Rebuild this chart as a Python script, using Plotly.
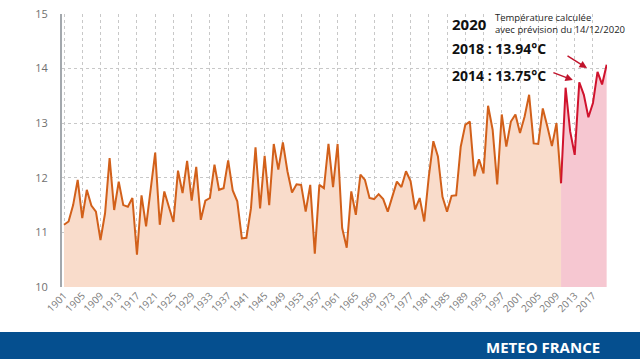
import plotly.graph_objects as go

years_obs = list(range(1901, 2011))
temp_obs = [
    11.14, 11.20, 11.50, 11.96, 11.26, 11.78, 11.49, 11.38, 10.86, 11.35,  # 1901-1910
    12.36, 11.41, 11.93, 11.50, 11.47, 11.63, 10.59, 11.68, 11.11, 11.78,  # 1911-1920
    12.46, 11.14, 11.75, 11.47, 11.19, 12.13, 11.72, 12.31, 11.58, 12.20,  # 1921-1930
    11.23, 11.58, 11.63, 12.24, 11.78, 11.81, 12.32, 11.77, 11.57, 10.89,  # 1931-1940
    10.90, 11.44, 12.56, 11.44, 12.40, 11.50, 12.62, 12.15, 12.65, 12.12,  # 1941-1950
    11.73, 11.88, 11.87, 11.38, 11.87, 10.61, 11.87, 11.81, 12.62, 11.83,  # 1951-1960
    12.62, 11.08, 10.72, 11.75, 11.32, 12.06, 11.96, 11.63, 11.61, 11.70,  # 1961-1970
    11.61, 11.38, 11.66, 11.93, 11.83, 12.12, 11.94, 11.42, 11.63, 11.20,  # 1971-1980
    12.02, 12.67, 12.39, 11.65, 11.38, 11.67, 11.68, 12.57, 12.97, 13.03,  # 1981-1990
    12.03, 12.34, 12.08, 13.32, 12.88, 11.88, 13.16, 12.57, 13.03, 13.16,  # 1991-2000
    12.82, 13.12, 13.52, 12.63, 12.62, 13.27, 12.94, 12.58, 13.00, 11.90,  # 2001-2010
]
years_recent = list(range(2010, 2021))
temp_recent = [11.90, 13.65, 12.85, 12.42, 13.75, 13.52, 13.11, 13.37, 13.94, 13.71, 14.07]

tick_years = list(range(1901, 2018, 4))
y_ticks = [10, 11, 12, 13, 14, 15]

FONT = "Open Sans"

fig = go.Figure()
fig.add_trace(go.Scatter(
    x=years_obs, y=temp_obs, mode="lines",
    line=dict(color="#d2601a", width=2),
    fill="tozeroy", fillcolor="#f9dccb",
    hoverinfo="skip", showlegend=False,
))
fig.add_trace(go.Scatter(
    x=years_recent, y=temp_recent, mode="lines",
    line=dict(color="#d0132d", width=2),
    fill="tozeroy", fillcolor="#f6c7d1",
    hoverinfo="skip", showlegend=False,
))

fig.update_xaxes(
    range=[1900.56, 2020.08], automargin=False,
    tickvals=tick_years, ticktext=[str(y) for y in tick_years],
    tickangle=-45, tickfont=dict(family=FONT, size=10, color="#7a7a7a"),
    showgrid=True, gridcolor="#c8c8c8", griddash="3px,3px", gridwidth=1,
    zeroline=False, showline=False, ticks="",
)
fig.update_yaxes(
    range=[10, 15], tickvals=y_ticks, automargin=False,
    tickfont=dict(family=FONT, size=11, color="#707070"),
    showgrid=True, gridcolor="#c8c8c8", griddash="3px,3px", gridwidth=1,
    zeroline=False, showline=True, linecolor="#a3a8ad", linewidth=2,
    ticks="", ticklabelstandoff=10,
)

annotations = [
    dict(x=1990.0, y=14.82, text="<b>2020</b>", showarrow=False,
         font=dict(family=FONT, size=15, color="#111111"), xanchor="center", yanchor="middle"),
    dict(x=1995.0, y=14.82, text="Température calculée<br>avec prévision du 14/12/2020",
         showarrow=False, align="left",
         font=dict(family=FONT, size=9.5, color="#222222"), xanchor="left", yanchor="middle"),
    dict(x=1985.7, y=14.36, text="<b>2018 : 13.94°C</b>", showarrow=False,
         font=dict(family=FONT, size=14, color="#111111"), xanchor="left", yanchor="middle"),
    dict(x=1985.7, y=13.88, text="<b>2014 : 13.75°C</b>", showarrow=False,
         font=dict(family=FONT, size=14, color="#111111"), xanchor="left", yanchor="middle"),
    dict(x=2015.7, y=14.01, ax=-21, ay=-13, text="", showarrow=True,
         arrowhead=2, arrowsize=1, arrowwidth=1.5, arrowcolor="#c0142c"),
    dict(x=2012.6, y=13.79, ax=-21, ay=-8, text="", showarrow=True,
         arrowhead=2, arrowsize=1, arrowwidth=1.5, arrowcolor="#c0142c"),
    dict(x=2020.1, y=14.12, ax=-4, ay=-19, text="", showarrow=True,
         arrowhead=2, arrowsize=1, arrowwidth=1.5, arrowcolor="#c0142c"),
    dict(xref="paper", yref="paper", x=(602 - 62) / 545, y=(287 - 347) / 273,
         text="<b>METEO FRANCE</b>", showarrow=False, xanchor="right", yanchor="middle",
         font=dict(family=FONT, size=15, color="#ffffff")),
]

shapes = [
    dict(type="rect", xref="paper", yref="paper",
         x0=-62 / 545, x1=(640 - 62) / 545,
         y0=(287 - 359) / 273, y1=(287 - 332) / 273,
         fillcolor="#054f8f", line=dict(width=0), layer="below"),
]

fig.update_layout(
    width=640, height=360,
    margin=dict(l=62, r=33, t=14, b=73, autoexpand=False),
    paper_bgcolor="#ffffff", plot_bgcolor="#ffffff",
    annotations=annotations, shapes=shapes,
    font=dict(family=FONT),
)

fig.write_html(
    "out.html",
    config={"displayModeBar": False},
    post_script="document.body.style.margin='0';document.body.style.overflow='hidden';",
)
